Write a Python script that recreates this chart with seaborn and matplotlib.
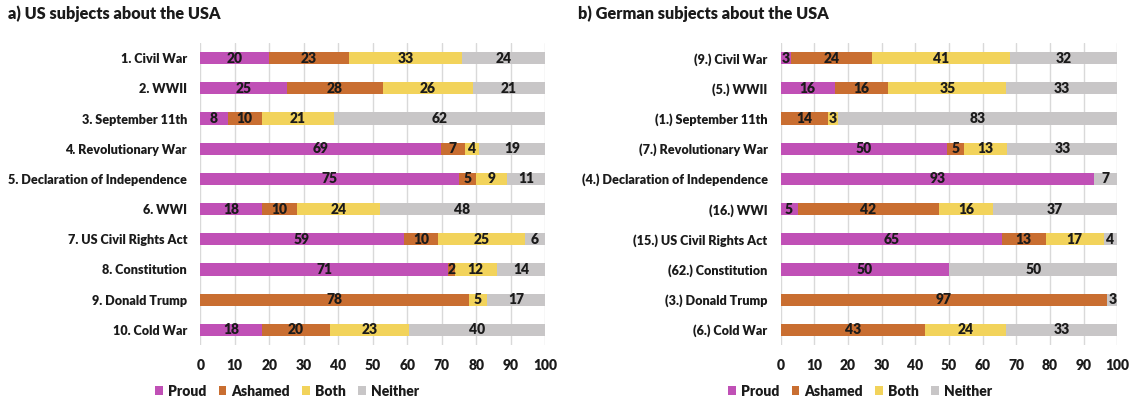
import numpy as np
import pandas as pd
import matplotlib
matplotlib.use("Agg")
import matplotlib.pyplot as plt
from matplotlib.patches import Patch
import seaborn as sns

# ---------------- data ----------------
series = ["Proud", "Ashamed", "Both", "Neither"]
colors = ["#C050B6", "#C96E31", "#F2D35B", "#C8C6C7"]

us_items = ["1. Civil War", "2. WWII", "3. September 11th", "4. Revolutionary War",
            "5. Declaration of Independence", "6. WWI", "7. US Civil Rights Act",
            "8. Constitution", "9. Donald Trump", "10. Cold War"]
us_proud   = [20, 25, 8, 69, 75, 18, 59, 71, 0, 18]
us_ashamed = [23, 28, 10, 7, 5, 10, 10, 2, 78, 20]
us_both    = [33, 26, 21, 4, 9, 24, 25, 12, 5, 23]
us_neither = [24, 21, 62, 19, 11, 48, 6, 14, 17, 40]

de_items = ["(9.) Civil War", "(5.) WWII", "(1.) September 11th", "(7.) Revolutionary War",
            "(4.) Declaration of Independence", "(16.) WWI", "(15.) US Civil Rights Act",
            "(62.) Constitution", "(3.) Donald Trump", "(6.) Cold War"]
de_proud   = [3, 16, 0, 50, 93, 5, 65, 50, 0, 0]
de_ashamed = [24, 16, 14, 5, 0, 42, 13, 0, 97, 43]
de_both    = [41, 35, 3, 13, 0, 16, 17, 0, 0, 24]
de_neither = [32, 33, 83, 33, 7, 37, 4, 50, 3, 33]

titles = ["a) US subjects about the USA", "b) German subjects about the USA"]
xticks = list(range(0, 101, 10))

# ---------------- style ----------------
sns.set_style("white")
plt.rcParams["font.family"] = ["Lato", "DejaVu Sans"]
WT = "heavy"
plt.rcParams["font.weight"] = WT
TXT = "#1b1b1b"

fig = plt.figure(figsize=(11.31, 4.04), dpi=100)
W, H = 1131, 404
ax_boxes = [(200.3, 545.3), (780.7, 1117.3)]
top_px, bot_px = 43, 345

panels = [
    (us_items, [us_proud, us_ashamed, us_both, us_neither]),
    (de_items, [de_proud, de_ashamed, de_both, de_neither]),
]
title_x = [8, 578]
legend_cx = [287, 860]

for p, ((items, vals), (x0, x1)) in enumerate(zip(panels, ax_boxes)):
    ax = fig.add_axes([x0 / W, 1 - bot_px / H, (x1 - x0) / W, (bot_px - top_px) / H])
    arr = np.array(vals, dtype=float).T          # rows = items, cols = series
    pct = arr / arr.sum(axis=1, keepdims=True) * 100
    cum = np.cumsum(pct, axis=1)
    df = pd.DataFrame({"item": items})
    for j, s in enumerate(series):
        df[s] = cum[:, j]
    # draw cumulative bars from the largest to the smallest so they stack
    for j in range(len(series) - 1, -1, -1):
        sns.barplot(data=df, y="item", x=series[j], order=items, orient="h",
                    color=colors[j], saturation=1, width=0.4, errorbar=None,
                    linewidth=0, ax=ax, zorder=2)
    # segment labels
    for i in range(len(items)):
        for j in range(len(series)):
            v = arr[i, j]
            if v <= 0:
                continue
            ax.text(cum[i, j] - pct[i, j] / 2, i, f"{int(v)}", ha="center", va="center",
                    fontsize=10, fontweight=WT, color=TXT, zorder=3)
    ax.set_xlim(0, 100)
    ax.set_ylim(len(items) - 0.5, -0.5)
    ax.set_xticks(xticks)
    ax.set_xlabel("")
    ax.set_ylabel("")
    ax.grid(axis="x", color="#D9D9D9", linewidth=1, zorder=0)
    ax.set_axisbelow(True)
    for sp in ax.spines.values():
        sp.set_visible(False)
    ax.tick_params(axis="y", length=0, pad=9.5, labelsize=9.1, labelcolor=TXT)
    ax.tick_params(axis="x", length=0, pad=10, labelsize=10, labelcolor=TXT)
    for lab in ax.get_xticklabels() + ax.get_yticklabels():
        lab.set_fontweight(WT)

    fig.text(title_x[p] / W, 1 - 14 / H, titles[p], ha="left", va="center",
             fontsize=11.7, fontweight=WT, color=TXT)

    handles = [Patch(facecolor=c, edgecolor="none", label=s) for s, c in zip(series, colors)]
    fig.legend(handles=handles, loc="center", bbox_to_anchor=(legend_cx[p] / W, 1 - 391 / H),
               ncol=4, frameon=False, handlelength=0.55, handleheight=0.55,
               handletextpad=0.35, columnspacing=0.9,
               prop={"size": 10, "weight": WT}, labelcolor=TXT)

fig.savefig("out.png", dpi=100)
